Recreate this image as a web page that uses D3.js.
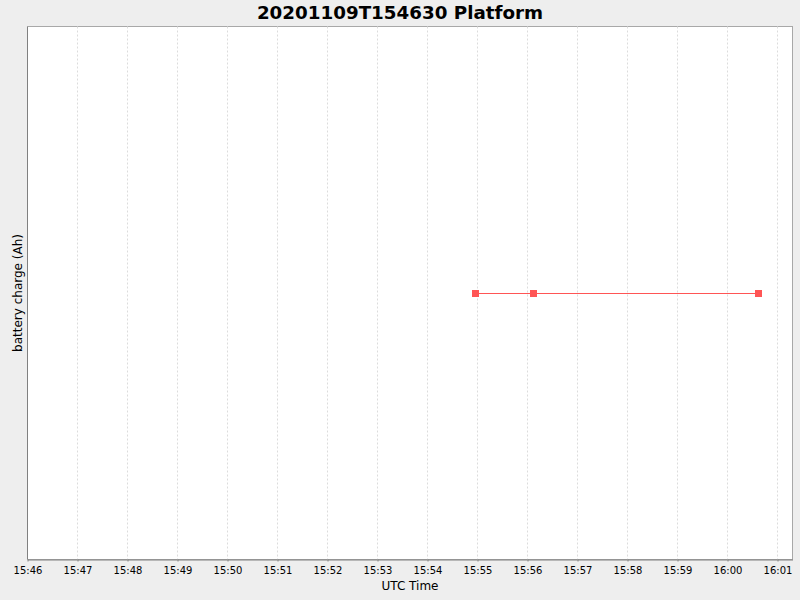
<!DOCTYPE html>
<html>
<head>
<meta charset="utf-8">
<script src="https://cdn.jsdelivr.net/npm/d3@7"></script>
<style>
  body { margin: 0; background: #eeeeee; }
  svg { display: block; font-family: "DejaVu Sans", sans-serif; }
</style>
</head>
<body>
<svg id="chart" width="800" height="600"></svg>
<script>
const title = "20201109T154630 Platform";
const xLabel = "UTC Time";
const yLabel = "battery charge (Ah)";

// sample times (UTC) and battery charge, all readings identical
const times = ["2020-11-09T15:54:57Z", "2020-11-09T15:56:07Z", "2020-11-09T16:00:36Z"];
const charge = [0, 0, 0];

// axis range as shown on the chart
const xRange = ["2020-11-09T15:46:00Z", "2020-11-09T16:01:18Z"];
const xTicks = ["15:46", "15:47", "15:48", "15:49", "15:50", "15:51", "15:52", "15:53",
    "15:54", "15:55", "15:56", "15:57", "15:58", "15:59", "16:00", "16:01"];

const margin = { top: 26.5, right: 7.5, bottom: 40.5, left: 27.5 };
const width = 800, height = 600;

const svg = d3.select("#chart");

const data = times.map(function (t, i) {
    return { t: new Date(t), v: charge[i] };
});

const x = d3.scaleUtc()
    .domain(xRange.map(function (d) { return new Date(d); }))
    .range([margin.left, width - margin.right]);

const y = d3.scaleLinear()
    .domain([d3.min(charge) - 1, d3.max(charge) + 1])
    .range([height - margin.bottom, margin.top]);

const tickDates = xTicks.map(function (s) {
    return new Date("2020-11-09T" + s + ":00Z");
});

// plot background
svg.append("rect")
    .attr("x", margin.left)
    .attr("y", margin.top)
    .attr("width", width - margin.left - margin.right)
    .attr("height", height - margin.top - margin.bottom)
    .attr("fill", "#ffffff")
    .attr("stroke", "#a8a8a8")
    .attr("stroke-width", 1);

// vertical gridlines
svg.append("g")
    .selectAll("line")
    .data(tickDates)
    .join("line")
    .attr("x1", function (d) { return x(d); })
    .attr("x2", function (d) { return x(d); })
    .attr("y1", margin.top)
    .attr("y2", height - margin.bottom)
    .attr("stroke", "#dcdcdc")
    .attr("stroke-width", 1)
    .attr("stroke-dasharray", "2,2");

// x axis
const xAxis = d3.axisBottom(x)
    .tickValues(tickDates)
    .tickFormat(function (d, i) { return xTicks[i]; })
    .tickSize(2)
    .tickPadding(5)
    .tickSizeOuter(0);

const gx = svg.append("g")
    .attr("transform", "translate(0," + (height - margin.bottom) + ")")
    .call(xAxis);
gx.select(".domain").attr("stroke", "#808080");
gx.selectAll(".tick line").attr("stroke", "#808080");
gx.selectAll(".tick text")
    .attr("fill", "#000")
    .style("font-size", "10px")
    .style("font-family", "DejaVu Sans, sans-serif");

// y axis line, no ticks (constant values)
svg.append("line")
    .attr("x1", margin.left)
    .attr("x2", margin.left)
    .attr("y1", margin.top)
    .attr("y2", height - margin.bottom)
    .attr("stroke", "#808080")
    .attr("stroke-width", 1);

// series line
const line = d3.line()
    .x(function (d) { return x(d.t); })
    .y(function (d) { return Math.round(y(d.v)) + 0.5; });

svg.append("path")
    .datum(data)
    .attr("d", line)
    .attr("fill", "none")
    .attr("stroke", "#ff5555")
    .attr("stroke-width", 1);

// square markers
svg.append("g")
    .selectAll("rect")
    .data(data)
    .join("rect")
    .attr("x", function (d) { return Math.round(x(d.t)) - 3; })
    .attr("y", function (d) { return Math.round(y(d.v)) - 3; })
    .attr("width", 7)
    .attr("height", 7)
    .attr("fill", "#ff5555");

// title
svg.append("text")
    .attr("x", width / 2)
    .attr("y", 19)
    .attr("text-anchor", "middle")
    .style("font-size", "18.3px")
    .style("font-weight", "bold")
    .text(title);

// axis labels
svg.append("text")
    .attr("x", (margin.left + width - margin.right) / 2)
    .attr("y", 590)
    .attr("text-anchor", "middle")
    .style("font-size", "12px")
    .text(xLabel);

svg.append("text")
    .attr("transform", "translate(22," + ((margin.top + height - margin.bottom) / 2) + ") rotate(-90)")
    .attr("text-anchor", "middle")
    .style("font-size", "12px")
    .text(yLabel);
</script>
</body>
</html>
